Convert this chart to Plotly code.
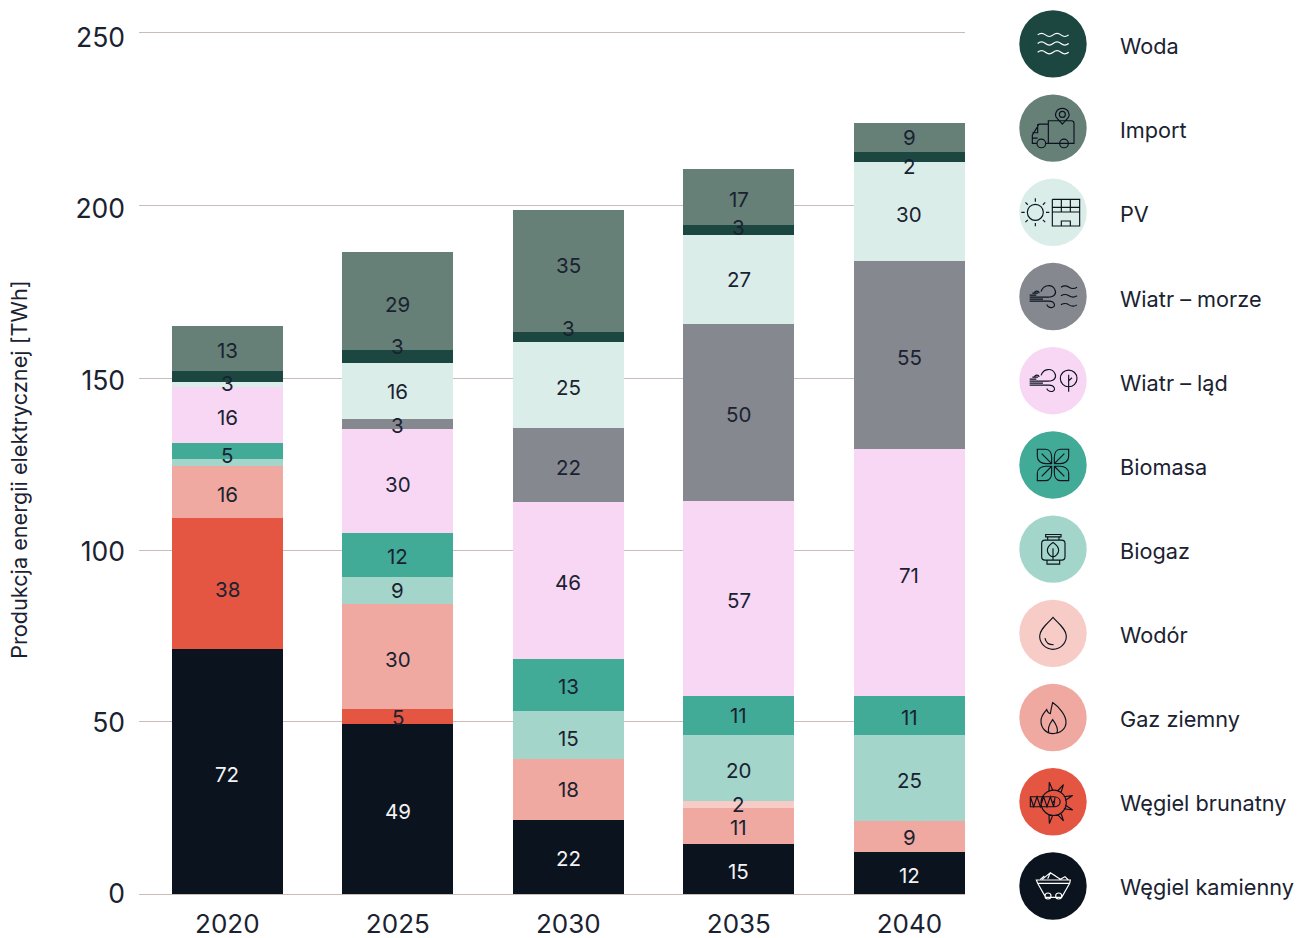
import re
import math
import plotly.graph_objects as go

# ---------- data ----------
YEARS = ["2020", "2025", "2030", "2035", "2040"]
WEGIEL_KAMIENNY = [71.1, 49.4, 21.5, 14.5, 12.2]
WEGIEL_BRUNATNY = [38.0, 4.4, 0, 0, 0]
GAZ_ZIEMNY = [15.2, 30.5, 17.7, 10.5, 9.0]
WODOR = [0, 0, 0, 2.0, 0]
BIOGAZ = [1.9, 7.8, 13.9, 19.2, 25.0]
BIOMASA = [4.6, 12.8, 15.1, 11.3, 11.3]
WIATR_LAD = [16.3, 30.2, 45.6, 56.6, 71.7]
WIATR_MORZE = [0, 2.9, 21.5, 51.4, 54.6]
PV = [1.5, 16.3, 25.0, 25.8, 28.7]
WODA = [3.2, 3.5, 2.9, 2.9, 2.9]
IMPORT = [13.1, 28.5, 35.4, 16.3, 8.4]

L_KAM = [72, 49, 22, 15, 12]
L_BRU = [38, 5, None, None, None]
L_GAZ = [16, 30, 18, 11, 9]
L_WOD = [None, None, None, 2, None]
L_BIG = [None, 9, 15, 20, 25]
L_BIM = [5, 12, 13, 11, 11]
L_LAD = [16, 30, 46, 57, 71]
L_MOR = [None, 3, 22, 50, 55]
L_PV = [None, 16, 25, 27, 30]
L_WDA = [3, 3, 3, 3, 2]
L_IMP = [13, 29, 35, 17, 9]

Y_TICKS = [0, 50, 100, 150, 200, 250]

SERIES = [
    ("Węgiel kamienny", WEGIEL_KAMIENNY, L_KAM, "#0B131F"),
    ("Węgiel brunatny", WEGIEL_BRUNATNY, L_BRU, "#E45542"),
    ("Gaz ziemny", GAZ_ZIEMNY, L_GAZ, "#F0A9A0"),
    ("Wodór", WODOR, L_WOD, "#F7CBC6"),
    ("Biogaz", BIOGAZ, L_BIG, "#A3D5CA"),
    ("Biomasa", BIOMASA, L_BIM, "#42AB98"),
    ("Wiatr – ląd", WIATR_LAD, L_LAD, "#F7D7F4"),
    ("Wiatr – morze", WIATR_MORZE, L_MOR, "#85888F"),
    ("PV", PV, L_PV, "#DAEDE9"),
    ("Woda", WODA, L_WDA, "#1C4640"),
    ("Import", IMPORT, L_IMP, "#667F77"),
]

# ---------- style ----------
W, H = 1307, 938
YMAX = 252
PL, PR, PB = 139, 965, 894
PT = PB - YMAX * 861 / 250
FONT = "Inter"
INK = "#1A2231"
GRID = "#C9BCB9"
# the source chart's rules are slightly unevenly placed
GRID_AT = [0, 50, 99.6, 149.6, 199.8, 250]
# downward pixel nudge of each value label from its segment's middle
NUDGE = {
    "Węgiel kamienny": [3, 3, 2, 2.5, 3],
    "Węgiel brunatny": [5.5, 1.5, 0, 0, 0],
    "Gaz ziemny": [2.5, 3.5, 0.5, 2, 1],
    "Wodór": [0, 0, 0, 0.5, 0],
    "Biogaz": [0, 0, 3.5, 3, 3],
    "Biomasa": [4.5, 2, 1.5, 0.5, 2.5],
    "Wiatr – ląd": [2.5, 4, 2, 2.5, 3.5],
    "Wiatr – morze": [0, 2, 3, 2.5, 3],
    "PV": [0, 1, 3, 0, 3.5],
    "Woda": [7, -10, -8, -2.7, 9.7],
    "Import": [2, 3, -5, 2.5, 0],
}

fig = go.Figure()
for name, vals, _, col in SERIES:
    fig.add_trace(go.Bar(x=YEARS, y=vals, name=name, marker=dict(color=col, line=dict(width=0))))
# carrier for the tick-label axis, draws nothing
fig.add_trace(go.Scatter(x=YEARS, y=[0] * len(YEARS), mode="none", yaxis="y2", hoverinfo="skip", showlegend=False))

annotations = []
base = [0.0] * len(YEARS)
for name, vals, labels, col in SERIES:
    for i, (v, lab) in enumerate(zip(vals, labels)):
        if lab is not None:
            annotations.append(dict(
                x=i, y=base[i] + v / 2, xref="x", yref="y", text=str(lab), showarrow=False,
                yshift=-NUDGE[name][i], xanchor="center", yanchor="middle",
                font=dict(family=FONT, size=20.5, color="#F2F3F4" if name == "Węgiel kamienny" else INK),
            ))
        base[i] += v


def px(x):
    return (x - PL) / (PR - PL)


def py(y):
    return (PB - y) / (PB - PT)


annotations.append(dict(
    x=px(19), y=py(470), xref="paper", yref="paper", text="Produkcja energii elektrycznej [TWh]",
    textangle=-90, showarrow=False, xanchor="center", yanchor="middle",
    font=dict(family=FONT, size=21.7, color=INK),
))


# ---------- legend icons (drawn in a 3x unit box around the disc centre) ----------
def circ(cx, cy, r):
    k = 0.5523 * r
    return (f"M {cx - r} {cy} C {cx - r} {cy - k} {cx - k} {cy - r} {cx} {cy - r} "
            f"C {cx + k} {cy - r} {cx + r} {cy - k} {cx + r} {cy} "
            f"C {cx + r} {cy + k} {cx + k} {cy + r} {cx} {cy + r} "
            f"C {cx - k} {cy + r} {cx - r} {cy + k} {cx - r} {cy} Z ")


def wave(x0, x1, y, n=2, a=6):
    step = (x1 - x0) / (2 * n)
    s = f"M {x0} {y} "
    for i in range(2 * n):
        sgn = -1 if i % 2 == 0 else 1
        s += f"Q {x0 + step * (i + .5)} {y + sgn * a * 1.6} {x0 + step * (i + 1)} {y} "
    return s


def line(*pts):
    return "M " + " L ".join(f"{a} {b}" for a, b in pts) + " "


def wind(ox, oy):
    def p(a, b):
        return f"{a + ox} {b + oy}"
    s = f"M {p(-70, 2)} L {p(-15, 2)} C {p(5, 2)} {p(12, -10)} {p(5, -22)} C {p(-3, -37)} {p(-28, -37)} {p(-36, -15)} "
    s += f"M {p(-70, 8)} L {p(-30, 8)} M {p(-70, 14)} L {p(-12, 14)} C {p(5, 14)} {p(10, 30)} {p(-2, 33)} C {p(-12, 35)} {p(-18, 28)} {p(-18, 24)} "
    s += f"M {p(-70, -4)} L {p(-50, -4)} M {p(-62, -10)} L {p(-45, -10)} M {p(-55, -10)} C {p(-55, -18)} {p(-42, -18)} {p(-42, -10)} "
    return s


def leaf(sx, sy):
    def p(a, b):
        return f"{a * sx} {b * sy}"
    return (f"M {p(-47, -47)} L {p(-22, -47)} C {p(-10, -47)} {p(-4, -35)} {p(-4, -22)} L {p(-4, -4)} "
            f"L {p(-22, -4)} C {p(-35, -4)} {p(-47, -12)} {p(-47, -25)} Z M {p(-34, -34)} L {p(-4, -4)} ")


sun = circ(-53, 0, 24)
for k in range(8):
    t = k * math.pi / 4
    sun += line((-53 + 32 * math.cos(t), 32 * math.sin(t)), (-53 + 42 * math.cos(t), 42 * math.sin(t)))
panel = (line((-2, -39), (80, -39), (80, 41), (-2, 41), (-2, -39)) + line((-2, -15), (80, -15)) +
         line((-2, -1), (80, -1)) + line((25, -39), (25, -1)) + line((52, -39), (52, -1)) +
         line((25, 41), (25, 26), (52, 26), (52, 41)))

teeth = ""
for k in range(9):
    t = k * 2 * math.pi / 9 - 0.35
    if math.cos(t) < -0.75:
        continue
    a, b = t - 0.16, t + 0.16
    teeth += line((37 * math.cos(a), 3 + 37 * math.sin(a)), (63 * math.cos(t), 3 + 63 * math.sin(t)),
                  (37 * math.cos(b), 3 + 37 * math.sin(b)))

ICONS = {
    "Woda": ("#FFFFFF", wave(-46, 47, -27) + wave(-46, 47, -1) + wave(-46, 47, 25)),
    "Import": ("#0B131F",
               "M -14 -22 L 55 -22 Q 63 -22 63 -14 L 63 46 L -14 46 Z "
               "M -14 -12 L -42 -12 L -62 21 L -62 46 L -48 46 M -62 30 L -46 30 "
               "M -46 -12 L -46 14 L -62 14 "
               + circ(-35, 46, 13) + circ(33, 46, 13) + "M -22 46 L 20 46 "
               "M 28 -12 L 10 -32 C 4 -42 10 -59 28 -59 C 46 -59 52 -42 46 -32 Z " + circ(28, -41, 9)),
    "PV": ("#0B131F", sun + panel),
    "Wiatr – morze": ("#0B131F", wind(0, 0) + wave(24, 72, -28, 1, 5) + wave(24, 72, -2, 1, 5) + wave(24, 72, 25, 1, 5)),
    "Wiatr – ląd": ("#0B131F", wind(0, -1) + circ(47, -7, 25) + line((47, -18), (47, 33)) + line((47, 0), (57, -9))),
    "Biomasa": ("#0B131F", leaf(1, 1) + leaf(-1, 1) + leaf(1, -1) + leaf(-1, -1)),
    "Biogaz": ("#0B131F",
               "M -22 -44 L 24 -44 L 24 -37 L -22 -37 Z M -16 -37 L -16 -27 M 18 -37 L 18 -27 "
               "M -24 -27 L 26 -27 Q 36 -27 36 -17 L 36 23 Q 36 33 26 33 L -24 33 Q -34 33 -34 23 L -34 -17 Q -34 -27 -24 -27 Z "
               "M -18 33 L -18 45 L 20 45 L 20 33 "
               "M 0 -20 C 12 -12 17 -4 17 3 C 17 13 8 22 0 23 C -8 22 -17 13 -17 3 C -17 -4 -12 -12 0 -20 Z M 0 -3 L 0 35 "),
    "Wodór": ("#0B131F",
              "M 0 -48 C 18 -28 40 -12 40 8 C 40 30 22 48 0 48 C -22 48 -40 30 -40 8 C -40 -12 -18 -28 0 -48 Z "
              "M -24 14 C -22 26 -12 34 2 34 "),
    "Gaz ziemny": ("#0B131F",
                   "M 0 48 C -22 48 -36 30 -36 10 C -36 -6 -26 -14 -19 -24 C -16 -16 -12 -12 -8 -12 C -6 -24 -4 -34 -1 -45 "
                   "C 18 -32 39 -8 39 14 C 39 34 22 48 0 48 Z "
                   "M -12 46 C -18 32 -10 18 -1 6 C 8 18 18 32 12 46 "),
    "Węgiel brunatny": ("#0B131F",
                        circ(2, 3, 38) + teeth + "M 2 -15 L -68 -15 L -68 15 L 2 15 C 28 15 28 -15 2 -15 Z "
                        "M -68 -15 L -58 15 L -48 -15 L -38 15 L -28 -15 L -18 15 L -8 -15 L 2 15 L 6 -14 "
                        + circ(3, 0, 2)),
    "Węgiel kamienny": ("#FFFFFF",
                        "M -50 -18 L 52 -18 L 50 -8 L 26 34 L -22 34 L -46 -8 Z M -46 -8 L 50 -8 "
                        + circ(-15, 30, 9) + circ(17, 30, 9) +
                        "M -32 -20 L -8 -40 L 22 -20 M -8 -40 L -16 -22 M -8 -40 L 8 -30 M 22 -20 L 36 -28 L 46 -18 M -38 -20 L -26 -30 "),
}
DISC_COL = {name: col for name, _, _, col in SERIES}
LEG_ORDER = ["Woda", "Import", "PV", "Wiatr – morze", "Wiatr – ląd", "Biomasa", "Biogaz",
             "Wodór", "Gaz ziemny", "Węgiel brunatny", "Węgiel kamienny"]
LEG_X, LEG_Y0, LEG_DY, LEG_R, LEG_TX, LEG_TY0, LEG_TDY = 1053, 44, 84.2, 33.7, 1118, 46.3, 84.1


def to_paper(path, cx, cy):
    toks = re.findall(r"[MLCQZ]|-?\d+\.?\d*(?:e-?\d+)?", path)
    out, nums = [], []
    for t in toks:
        if t in "MLCQZ":
            out.append(t)
        else:
            nums.append(float(t))
            if len(nums) == 2:
                out.append(f"{px(cx + nums[0] / 3):.5f},{py(cy + nums[1] / 3):.5f}")
                nums = []
    return " ".join(out)


shapes = []
for i, name in enumerate(LEG_ORDER):
    cy = LEG_Y0 + i * LEG_DY
    shapes.append(dict(type="circle", xref="paper", yref="paper", x0=px(LEG_X - LEG_R), x1=px(LEG_X + LEG_R),
                       y0=py(cy + LEG_R), y1=py(cy - LEG_R), fillcolor=DISC_COL[name], line=dict(width=0)))
    col, path = ICONS[name]
    shapes.append(dict(type="path", xref="paper", yref="paper", path=to_paper(path, LEG_X, cy),
                       line=dict(color=col, width=1.15), fillcolor="rgba(0,0,0,0)"))
    annotations.append(dict(x=px(LEG_TX), y=py(LEG_TY0 + i * LEG_TDY), xref="paper", yref="paper", text=name,
                            showarrow=False, xanchor="left", yanchor="middle",
                            font=dict(family=FONT, size=21.7, color=INK)))

fig.update_layout(
    width=W, height=H, barmode="stack", bargap=0.349, showlegend=False,
    paper_bgcolor="white", plot_bgcolor="white",
    margin=dict(l=PL, r=W - PR, t=PT, b=H - PB, pad=0, autoexpand=False),
    font=dict(family=FONT, color=INK),
    xaxis=dict(type="category", range=[-0.5178, 4.3262], showgrid=False, zeroline=False, showline=False, automargin=False,
               ticks="", ticklabelstandoff=12, tickfont=dict(family=FONT, size=26, color=INK), fixedrange=True),
    yaxis=dict(range=[0, YMAX], tickvals=GRID_AT, showgrid=True, gridcolor=GRID, gridwidth=1, automargin=False,
               zeroline=True, zerolinecolor=GRID, zerolinewidth=1, showline=False, ticks="", showticklabels=False,
               fixedrange=True),
    # tick labels sit on a very slightly tighter scale than the grid, as in the source chart
    yaxis2=dict(overlaying="y", side="left", range=[0, YMAX * 861 / 856], tickvals=Y_TICKS, showgrid=False,
                zeroline=False, showline=False, ticks="", ticklabelstandoff=13, automargin=False,
                tickfont=dict(family=FONT, size=26.5, color=INK), fixedrange=True),
    annotations=annotations, shapes=shapes,
)

fig.write_html("out.html", config={"displayModeBar": False},
               post_script="document.body.style.margin='0';document.body.style.overflow='hidden';")
